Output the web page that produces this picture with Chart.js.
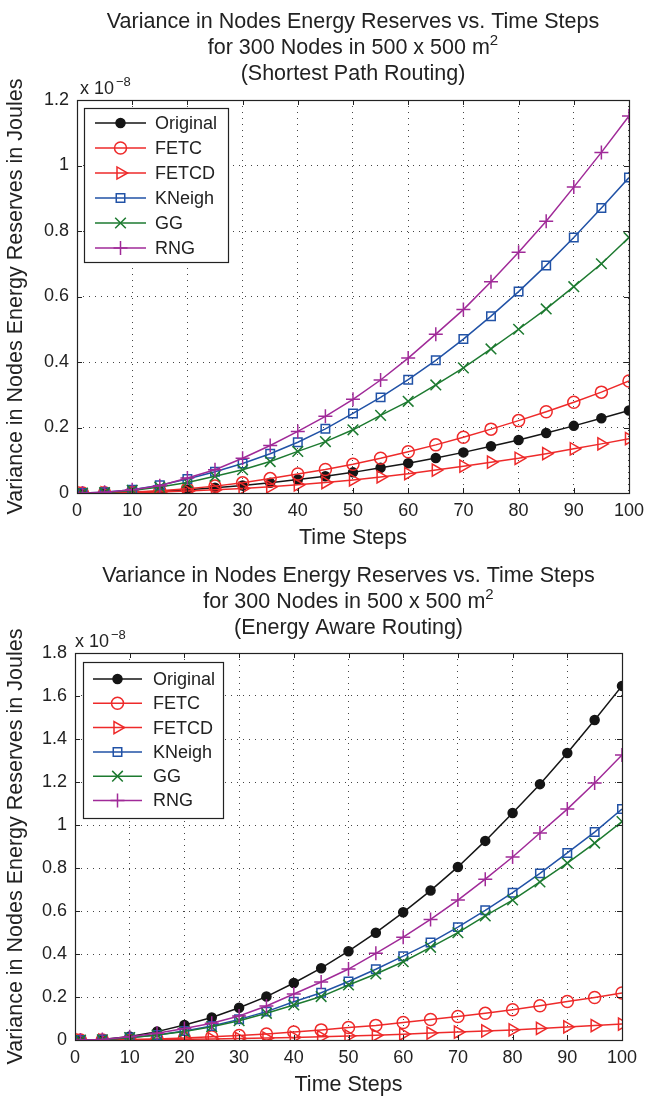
<!DOCTYPE html>
<html>
<head>
<meta charset="utf-8">
<script src="https://cdn.jsdelivr.net/npm/chart.js@4.4.1/dist/chart.umd.min.js"></script>
<style>
  html, body { margin: 0; padding: 0; background: #fff; }
  canvas { display: block; }
</style>
</head>
<body>
<canvas id="shortestChart" width="651" height="550"></canvas>
<canvas id="energyChart" width="651" height="550"></canvas>
<script>
// values are in units of 1e-8 J
const timeSteps = [1, 5, 10, 15, 20, 25, 30, 35, 40, 45, 50, 55, 60, 65, 70, 75, 80, 85, 90, 95, 100];
const seriesLabels = ['Original', 'FETC', 'FETCD', 'KNeigh', 'GG', 'RNG'];

// Shortest Path Routing
const spOriginal = [0, 0.0005, 0.002, 0.005, 0.01, 0.016, 0.023, 0.031, 0.041, 0.051, 0.063, 0.077, 0.091, 0.107, 0.124, 0.143, 0.162, 0.183, 0.205, 0.228, 0.252];
const spFETC = [0, 0.001, 0.003, 0.007, 0.013, 0.021, 0.031, 0.044, 0.058, 0.072, 0.088, 0.106, 0.126, 0.147, 0.17, 0.195, 0.221, 0.248, 0.277, 0.308, 0.342];
const spFETCD = [0, 0.0003, 0.001, 0.003, 0.006, 0.01, 0.014, 0.019, 0.025, 0.032, 0.04, 0.049, 0.059, 0.07, 0.082, 0.094, 0.106, 0.12, 0.135, 0.15, 0.166];
const spKNeigh = [0, 0.002, 0.01, 0.024, 0.043, 0.065, 0.09, 0.12, 0.155, 0.196, 0.243, 0.292, 0.346, 0.405, 0.47, 0.54, 0.615, 0.695, 0.78, 0.87, 0.963];
const spGG = [0, 0.001, 0.008, 0.018, 0.032, 0.051, 0.071, 0.096, 0.127, 0.157, 0.193, 0.237, 0.28, 0.33, 0.382, 0.44, 0.5, 0.562, 0.63, 0.70, 0.78];
const spRNG = [0, 0.002, 0.01, 0.022, 0.046, 0.071, 0.106, 0.145, 0.188, 0.234, 0.286, 0.345, 0.412, 0.485, 0.56, 0.645, 0.735, 0.83, 0.934, 1.04, 1.151];

// Energy Aware Routing
const eaOriginal = [0, 0.002, 0.016, 0.039, 0.07, 0.105, 0.15, 0.202, 0.265, 0.334, 0.413, 0.499, 0.594, 0.695, 0.805, 0.926, 1.056, 1.19, 1.335, 1.488, 1.647];
const eaFETC = [0, 0.0005, 0.002, 0.005, 0.009, 0.015, 0.021, 0.028, 0.037, 0.047, 0.058, 0.068, 0.081, 0.095, 0.109, 0.124, 0.141, 0.159, 0.179, 0.198, 0.219];
const eaFETCD = [0, 0, 0.001, 0.002, 0.003, 0.005, 0.007, 0.009, 0.012, 0.015, 0.019, 0.022, 0.027, 0.032, 0.037, 0.042, 0.047, 0.054, 0.061, 0.067, 0.074];
const eaKNeigh = [0, 0.002, 0.012, 0.023, 0.042, 0.065, 0.096, 0.132, 0.178, 0.22, 0.272, 0.329, 0.39, 0.453, 0.525, 0.603, 0.685, 0.775, 0.87, 0.967, 1.074];
const eaGG = [0, 0.001, 0.011, 0.023, 0.039, 0.062, 0.09, 0.124, 0.163, 0.202, 0.256, 0.307, 0.364, 0.431, 0.499, 0.577, 0.651, 0.735, 0.823, 0.916, 1.016];
const eaRNG = [0, 0.002, 0.015, 0.031, 0.054, 0.078, 0.112, 0.158, 0.214, 0.27, 0.33, 0.403, 0.478, 0.561, 0.651, 0.748, 0.851, 0.963, 1.074, 1.195, 1.326];

const xTickLabels = ['0', '10', '20', '30', '40', '50', '60', '70', '80', '90', '100'];
const spYTickLabels = ['0', '0.2', '0.4', '0.6', '0.8', '1', '1.2'];
const eaYTickLabels = ['0', '0.2', '0.4', '0.6', '0.8', '1', '1.2', '1.4', '1.6', '1.8'];

const FONT = '"Liberation Sans", Arial, Helvetica, sans-serif';
const TEXT = '#222';

const styles = {
    Original: { color: '#151515', pointStyle: 'circle', radius: 4.5, filled: true },
    FETC: { color: '#ee2a2a', pointStyle: 'circle', radius: 6 },
    FETCD: { color: '#ee2a2a', pointStyle: 'triangle', radius: 7, rotation: 90 },
    KNeigh: { color: '#2152a6', pointStyle: 'rect', radius: 6 },
    GG: { color: '#1d7a30', pointStyle: 'crossRot', radius: 7.5 },
    RNG: { color: '#a02a98', pointStyle: 'cross', radius: 7 },
};

function makeDatasets(valueLists) {
    return seriesLabels.map(function (name, i) {
        const s = styles[name];
        return {
            label: name,
            data: timeSteps.map(function (t, k) { return { x: t, y: valueLists[i][k] }; }),
            borderColor: s.color,
            backgroundColor: s.filled ? s.color : 'rgba(0,0,0,0)',
            borderWidth: 1.5,
            pointStyle: s.pointStyle,
            pointRadius: s.radius,
            pointRotation: s.rotation || 0,
            pointBorderWidth: 1.5,
            pointHoverRadius: s.radius,
            tension: 0,
            order: seriesLabels.length - i,
        };
    });
}

function drawRuns(ctx, runs, cx, y, size) {
    const big = size + 'px ' + FONT;
    const small = Math.round(size * 0.7) + 'px ' + FONT;
    let w = 0;
    runs.forEach(function (r) { ctx.font = r.sup ? small : big; w += ctx.measureText(r.t).width; });
    let x = cx - w / 2;
    ctx.textAlign = 'left';
    ctx.textBaseline = 'alphabetic';
    runs.forEach(function (r) {
        ctx.font = r.sup ? small : big;
        ctx.fillText(r.t, x, r.sup ? y - size * 0.42 : y);
        x += ctx.measureText(r.t).width;
    });
}

const matlabPlugin = {
    id: 'matlabFrame',
    afterDraw(chart, args, opts) {
        const ctx = chart.ctx;
        const a = chart.chartArea;
        const xs = chart.scales.x;
        const ys = chart.scales.y;
        ctx.save();
        ctx.fillStyle = TEXT;
        ctx.strokeStyle = TEXT;

        // inward tick marks on all four sides
        ctx.lineWidth = 1;
        ctx.beginPath();
        xs.ticks.forEach(function (t) {
            const px = Math.round(xs.getPixelForValue(t.value)) + 0.5;
            ctx.moveTo(px, a.bottom); ctx.lineTo(px, a.bottom - 5);
            ctx.moveTo(px, a.top); ctx.lineTo(px, a.top + 5);
        });
        ys.ticks.forEach(function (t) {
            const py = Math.round(ys.getPixelForValue(t.value)) + 0.5;
            ctx.moveTo(a.left, py); ctx.lineTo(a.left + 5, py);
            ctx.moveTo(a.right, py); ctx.lineTo(a.right - 5, py);
        });
        ctx.stroke();
        ctx.lineWidth = 1.2;
        ctx.strokeRect(Math.round(a.left) + 0.5, Math.round(a.top) + 0.5,
            Math.round(a.right - a.left), Math.round(a.bottom - a.top));

        // titles
        const cx = (a.left + a.right) / 2;
        opts.title.forEach(function (runs, i) {
            drawRuns(ctx, runs, cx, opts.titleY[i], 21.5);
        });

        // exponent
        ctx.textAlign = 'left';
        ctx.textBaseline = 'alphabetic';
        ctx.font = '18px ' + FONT;
        const ex = a.left + opts.expDx;
        ctx.fillText('x 10', ex, a.top - 6);
        const ew = ctx.measureText('x 10').width;
        ctx.font = '13px ' + FONT;
        ctx.fillText('\u22128', ex + ew + 2, a.top - 14);

        // axis titles
        ctx.font = '21.5px ' + FONT;
        ctx.textAlign = 'center';
        ctx.textBaseline = 'middle';
        ctx.fillText('Time Steps', cx, opts.xTitleY);
        ctx.save();
        ctx.translate(opts.yTitleX, (a.top + a.bottom) / 2);
        ctx.rotate(-Math.PI / 2);
        ctx.fillText('Variance in Nodes Energy Reserves in Joules', 0, 0);
        ctx.restore();

        // legend box
        const L = opts.legend;
        ctx.fillStyle = '#fff';
        ctx.fillRect(L.left, L.top, L.right - L.left, L.bottom - L.top);
        ctx.strokeStyle = TEXT;
        ctx.lineWidth = 1.2;
        ctx.strokeRect(L.left + 0.5, L.top + 0.5, L.right - L.left, L.bottom - L.top);
        chart.data.datasets.forEach(function (ds, i) {
            const y = L.rowY + i * L.rowStep;
            ctx.strokeStyle = ds.borderColor;
            ctx.lineWidth = 1.5;
            ctx.beginPath();
            ctx.moveTo(L.lineX0, y); ctx.lineTo(L.lineX1, y);
            ctx.stroke();
            ctx.fillStyle = ds.backgroundColor;
            Chart.helpers.drawPoint(ctx, {
                pointStyle: ds.pointStyle,
                rotation: ds.pointRotation,
                radius: ds.pointRadius,
                borderWidth: 1.5,
            }, (L.lineX0 + L.lineX1) / 2, y);
            ctx.fillStyle = TEXT;
            ctx.font = '18px ' + FONT;
            ctx.textAlign = 'left';
            ctx.textBaseline = 'middle';
            ctx.fillText(ds.label, L.textX, y + 1);
        });
        ctx.restore();
    },
};

function buildChart(canvasId, valueLists, yMax, yLabels, g) {
    const canvas = document.getElementById(canvasId);
    return new Chart(canvas, {
        type: 'line',
        data: { datasets: makeDatasets(valueLists) },
        options: {
            responsive: false,
            animation: false,
            layout: { padding: { left: 0, right: g.padRight, top: g.padTop, bottom: 0 } },
            plugins: {
                legend: { display: false },
                tooltip: { enabled: false },
                title: { display: false },
                matlabFrame: g.frame,
            },
            scales: {
                x: {
                    type: 'linear',
                    min: 0,
                    max: 100,
                    afterFit: function (scale) { scale.height = g.xHeight; },
                    ticks: {
                        stepSize: 10,
                        padding: 7,
                        color: TEXT,
                        font: { family: FONT, size: 18 },
                        callback: function (v, i) { return xTickLabels[i]; },
                    },
                    grid: { color: '#444', lineWidth: 1, drawTicks: false },
                    border: { display: false, dash: [1, 5] },
                },
                y: {
                    min: 0,
                    max: yMax,
                    afterFit: function (scale) { scale.width = g.yWidth; },
                    ticks: {
                        stepSize: 0.2,
                        padding: 8,
                        color: TEXT,
                        font: { family: FONT, size: 18 },
                        callback: function (v, i) { return yLabels[i]; },
                    },
                    grid: { color: '#444', lineWidth: 1, drawTicks: false },
                    border: { display: false, dash: [1, 5] },
                },
            },
        },
        plugins: [matlabPlugin],
    });
}

const titleTop = [{ t: 'Variance in Nodes Energy Reserves vs. Time Steps' }];
const titleMid = [{ t: 'for 300 Nodes in 500 x 500 m' }, { t: '2', sup: true }];

buildChart('shortestChart',
    [spOriginal, spFETC, spFETCD, spKNeigh, spGG, spRNG],
    1.2, spYTickLabels,
    {
        padRight: 16, padTop: 100, xHeight: 57, yWidth: 77,
        frame: {
            title: [titleTop, titleMid, [{ t: '(Shortest Path Routing)' }]],
            titleY: [28, 54, 80],
            expDx: 3,
            xTitleY: 538,
            yTitleX: 16,
            legend: { left: 84, top: 108, right: 228, bottom: 262, rowY: 123, rowStep: 25, lineX0: 95, lineX1: 146, textX: 155 },
        },
    });

buildChart('energyChart',
    [eaOriginal, eaFETC, eaFETCD, eaKNeigh, eaGG, eaRNG],
    1.8, eaYTickLabels,
    {
        padRight: 29, padTop: 103, xHeight: 60, yWidth: 75,
        frame: {
            title: [titleTop, titleMid, [{ t: '(Energy Aware Routing)' }]],
            titleY: [32, 58, 84],
            expDx: 0,
            xTitleY: 535,
            yTitleX: 16,
            legend: { left: 83, top: 112, right: 223, bottom: 268, rowY: 129, rowStep: 24.3, lineX0: 93, lineX1: 142, textX: 153 },
        },
    });
</script>
</body>
</html>
